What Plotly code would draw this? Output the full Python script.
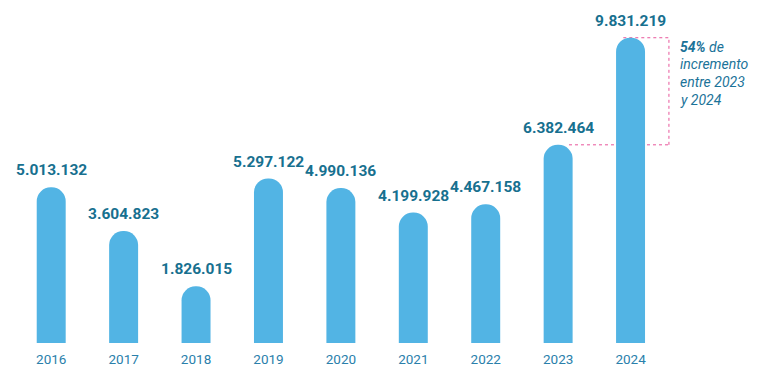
import plotly.graph_objects as go

years = ["2016", "2017", "2018", "2019", "2020", "2021", "2022", "2023", "2024"]
values = [5013132, 3604823, 1826015, 5297122, 4990136, 4199928, 4467158, 6382464, 9831219]
labels = ["5.013.132", "3.604.823", "1.826.015", "5.297.122", "4.990.136",
          "4.199.928", "4.467.158", "6.382.464", "9.831.219"]
note_lines = ["<b>54%</b> de", "incremento", "entre 2023", "y 2024"]

BAR = "#52b4e4"
DARK = "#17708f"
TICK = "#2a80ab"
NOTE = "#1b7399"
PINK = "#e8559b"
FONT = "Roboto, sans-serif"

fig = go.Figure()
fig.add_trace(go.Bar(
    x=years, y=values, width=0.4,
    marker=dict(color=BAR, cornerradius="50%", line=dict(width=0)),
    hoverinfo="skip",
))

anns = []
for i, (v, lab) in enumerate(zip(values, labels)):
    anns.append(dict(x=i, y=v, text=lab, showarrow=False, xref="x", yref="y",
                     yanchor="bottom", yshift=6,
                     font=dict(family=FONT, size=15.5, color=DARK, weight="bold")))

top = values[-1]
for i, line in enumerate(note_lines):
    anns.append(dict(x=len(years) - 1, y=top, text=line, showarrow=False, xref="x", yref="y",
                     xanchor="left", yanchor="middle", xshift=47, yshift=-9 - 17.7 * i,
                     font=dict(family=FONT, size=14, color=NOTE, style="italic")))
fig.update_layout(annotations=anns)

# bracket (dotted) from 2023 top to 2024 top
fig.add_shape(type="line", xref="x", yref="y", x0=7.15, x1=8.53, y0=values[7], y1=values[7],
              line=dict(color=PINK, width=1, dash="dot"), layer="below")
fig.add_shape(type="line", xref="x", yref="y", x0=8.53, x1=8.53, y0=values[7], y1=values[8],
              line=dict(color=PINK, width=1, dash="dot"), layer="below")
fig.add_shape(type="line", xref="x", yref="y", x0=7.9, x1=8.53, y0=values[8], y1=values[8],
              line=dict(color=PINK, width=1, dash="dot"), layer="below")

fig.update_layout(
    width=760, height=376,
    margin=dict(l=6.75, r=93.5, t=2, b=41),
    paper_bgcolor="white", plot_bgcolor="white",
    showlegend=False,
    xaxis=dict(type="category", range=[-0.5, 8.6], showgrid=False, zeroline=False,
               showline=False, ticks="", ticklabelstandoff=6,
               tickfont=dict(family=FONT, size=13.5, color=TICK), fixedrange=True),
    yaxis=dict(range=[0, 333 / 31.05 * 1e6], visible=False, showgrid=False, zeroline=False,
               fixedrange=True),
)

fig.write_html("out.html")
